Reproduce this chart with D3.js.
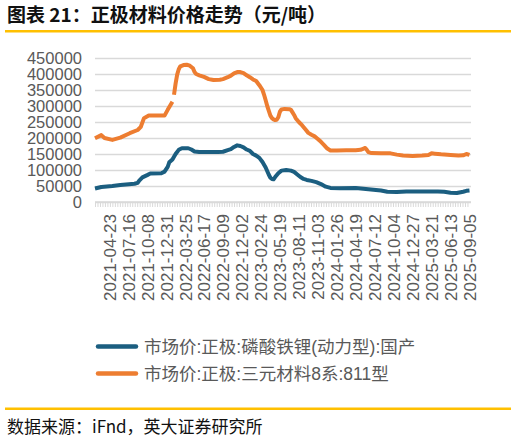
<!DOCTYPE html>
<html>
<head>
<meta charset="utf-8">
<script src="https://cdn.jsdelivr.net/npm/d3@7"></script>
<style>
  body { margin: 0; background: #fff; }
  svg { display: block; }
</style>
</head>
<body>
<svg id="chart" width="517" height="440"></svg>
<script>
// 磷酸铁锂(动力型) weekly prices, yuan/ton
const lfpDates = ['2021-02-19', '2021-03-19', '2021-05-07', '2021-06-11', '2021-08-13', '2021-08-27', '2021-09-03', '2021-09-17', '2021-10-08', '2021-10-22', '2021-12-10', '2021-12-24', '2022-01-07', '2022-01-14', '2022-01-28', '2022-02-11', '2022-02-25', '2022-03-11', '2022-04-08', '2022-04-22', '2022-05-06', '2022-05-27', '2022-08-19', '2022-09-09', '2022-09-30', '2022-10-14', '2022-10-28', '2022-11-11', '2022-11-25', '2022-12-09', '2022-12-23', '2023-01-06', '2023-01-20', '2023-02-03', '2023-02-17', '2023-03-03', '2023-03-17', '2023-03-31', '2023-04-07', '2023-04-14', '2023-04-21', '2023-04-28', '2023-05-12', '2023-05-26', '2023-06-16', '2023-07-07', '2023-07-21', '2023-08-04', '2023-08-18', '2023-09-01', '2023-09-15', '2023-10-06', '2023-10-27', '2023-11-17', '2023-12-08', '2023-12-29', '2024-02-09', '2024-04-19', '2024-06-14', '2024-08-09', '2024-09-06', '2024-10-18', '2024-11-29', '2025-02-07', '2025-04-18', '2025-05-16', '2025-06-13', '2025-07-11', '2025-08-08', '2025-08-22', '2025-09-05']
const lfpValues = [42000, 47000, 50000, 53000, 57000, 60000, 67000, 77000, 84000, 89000, 90000, 95000, 110000, 124000, 133000, 150000, 163000, 168000, 168000, 164000, 158000, 156000, 156000, 157000, 162000, 165000, 172000, 177000, 175000, 171000, 164000, 160000, 150000, 145000, 138000, 125000, 108000, 85000, 76000, 72000, 71000, 78000, 90000, 98000, 100000, 98000, 94000, 86000, 78000, 72000, 69000, 66000, 62000, 56000, 48000, 44000, 43000, 44000, 40000, 36000, 32000, 31000, 33000, 33000, 33000, 32000, 29000, 28000, 32000, 35000, 36000]

// 三元材料8系:811型 weekly prices, yuan/ton (null = missing value)
const ncmDates = ['2021-02-19', '2021-03-19', '2021-04-02', '2021-05-07', '2021-06-11', '2021-07-23', '2021-08-27', '2021-09-10', '2021-09-24', '2021-10-15', '2021-12-24', '2022-01-07', '2022-01-28', '2022-02-01', '2022-02-04', '2022-02-11', '2022-02-18', '2022-02-25', '2022-03-04', '2022-03-18', '2022-04-01', '2022-04-15', '2022-04-29', '2022-05-06', '2022-05-13', '2022-05-27', '2022-06-17', '2022-07-08', '2022-07-29', '2022-08-26', '2022-09-09', '2022-09-30', '2022-10-14', '2022-10-28', '2022-11-11', '2022-11-25', '2022-12-09', '2022-12-23', '2023-01-06', '2023-01-20', '2023-02-03', '2023-02-17', '2023-03-03', '2023-03-10', '2023-03-17', '2023-03-24', '2023-03-31', '2023-04-07', '2023-04-14', '2023-04-21', '2023-04-28', '2023-05-05', '2023-05-12', '2023-05-19', '2023-05-26', '2023-06-09', '2023-06-30', '2023-07-07', '2023-07-14', '2023-07-21', '2023-07-28', '2023-08-11', '2023-08-25', '2023-09-08', '2023-09-22', '2023-10-06', '2023-10-20', '2023-11-03', '2023-11-17', '2023-12-01', '2023-12-15', '2023-12-29', '2024-01-26', '2024-03-08', '2024-04-19', '2024-05-10', '2024-05-24', '2024-05-31', '2024-06-07', '2024-06-14', '2024-06-28', '2024-08-09', '2024-09-20', '2024-10-18', '2024-11-15', '2024-12-27', '2025-02-07', '2025-03-07', '2025-03-21', '2025-04-04', '2025-05-02', '2025-06-13', '2025-07-18', '2025-08-08', '2025-08-22', '2025-09-05']
const ncmValues = [199000, 209000, 200000, 194000, 201000, 215000, 225000, 235000, 262000, 270000, 270000, 288000, 313000, null, 335000, 370000, 398000, 415000, 424000, 428000, 429000, 426000, 418000, 406000, 400000, 396000, 391000, 384000, 381000, 382000, 384000, 390000, 395000, 402000, 406000, 406000, 403000, 396000, 390000, 383000, 378000, 365000, 350000, 335000, 318000, 300000, 285000, 270000, 262000, 258000, 256000, 257000, 265000, 282000, 289000, 291000, 290000, 288000, 280000, 272000, 262000, 250000, 240000, 228000, 216000, 210000, 205000, 197000, 188000, 178000, 167000, 161000, 161000, 162000, 162000, 163000, 167000, 169000, 163000, 156000, 153000, 152000, 152000, 148000, 145000, 144000, 145000, 147000, 152000, 151000, 149000, 147000, 145000, 146000, 150000, 147000]

const labelDates = ['2021-04-23', '2021-07-16', '2021-10-08', '2021-12-31', '2022-03-25', '2022-06-17', '2022-09-09', '2022-12-02', '2023-02-24', '2023-05-19', '2023-08-11', '2023-11-03', '2024-01-26', '2024-04-19', '2024-07-12', '2024-10-04', '2024-12-27', '2025-03-21', '2025-06-13', '2025-09-05']
const yTicks = [0, 50000, 100000, 150000, 200000, 250000, 300000, 350000, 400000, 450000]

const seriesNames = ['市场价:正极:磷酸铁锂(动力型):国产', '市场价:正极:三元材料8系:811型']
const colors = ['#1b5e80', '#ed7d31']

const textColor = '#595959'
const gridColor = '#d9d9d9'
const latin = '"Liberation Sans", Arial, "Noto Sans CJK SC", sans-serif'
const parse = d3.timeParse('%Y-%m-%d')

const svg = d3.select('#chart')
svg.append('rect').attr('width', 517).attr('height', 440).attr('fill', '#fff')

// Title and the two gold rules
svg.append('text')
  .attr('x', 7)
  .attr('y', 22)
  .attr('font-family', '"Noto Sans CJK SC", sans-serif')
  .attr('font-weight', 700)
  .attr('font-size', 19)
  .attr('fill', '#111')
  .text('图表 21：正极材料价格走势（元/吨）')

svg.append('rect').attr('x', 5).attr('y', 30).attr('width', 506).attr('height', 2.5).attr('fill', '#ffc000')
svg.append('rect').attr('x', 5).attr('y', 407.5).attr('width', 506).attr('height', 2.5).attr('fill', '#ffc000')

const x = d3.scaleTime()
  .domain([parse('2021-02-19'), parse('2025-09-05')])
  .range([95, 469.5])

const y = d3.scaleLinear()
  .domain([0, 450000])
  .range([202, 58])

// y axis with gridlines
svg.append('g')
  .attr('transform', 'translate(95, 0)')
  .call(d3.axisLeft(y).tickValues(yTicks).tickSize(-376).tickPadding(13).tickFormat(d3.format('d')))
  .call(g => g.select('.domain').remove())
  .call(g => g.selectAll('line').attr('stroke', gridColor).attr('stroke-width', 1.3))
  .call(g => g.selectAll('text')
    .attr('fill', textColor)
    .attr('font-family', latin)
    .attr('font-size', 16.5))

// x axis: small category ticks, then the rotated date labels
const xAxisG = svg.append('g').attr('transform', 'translate(0, 202)')

xAxisG.append('g')
  .call(d3.axisBottom(x)
    .tickValues(d3.timeDay.range(parse('2021-02-19'), parse('2025-09-06'), 11))
    .tickSize(5)
    .tickSizeOuter(0)
    .tickFormat(''))
  .call(g => g.select('.domain').attr('stroke', gridColor).attr('stroke-width', 1.3).attr('d', 'M95,0H471'))
  .call(g => g.selectAll('line').attr('stroke', gridColor))

xAxisG.append('g')
  .call(d3.axisBottom(x)
    .tickValues(labelDates.map(parse))
    .tickSize(0)
    .tickFormat(d3.timeFormat('%Y-%m-%d')))
  .call(g => g.select('.domain').remove())
  .call(g => g.selectAll('text')
    .attr('transform', 'rotate(-90)')
    .attr('text-anchor', 'end')
    .attr('x', -12)
    .attr('y', 0)
    .attr('dy', '0.35em')
    .attr('fill', textColor)
    .attr('font-family', latin)
    .attr('font-size', 17))

// lines
const line = d3.line()
  .defined(d => d.value !== null)
  .x(d => x(d.date))
  .y(d => y(d.value))

const series = [
  lfpDates.map((d, i) => ({ date: parse(d), value: lfpValues[i] })),
  ncmDates.map((d, i) => ({ date: parse(d), value: ncmValues[i] }))
]

svg.append('g')
  .selectAll('path')
  .data(series)
  .join('path')
  .attr('d', line)
  .attr('fill', 'none')
  .attr('stroke', (d, i) => colors[i])
  .attr('stroke-width', 4)
  .attr('stroke-linejoin', 'round')

// legend
const legend = svg.append('g')
  .selectAll('g')
  .data(seriesNames)
  .join('g')
  .attr('transform', (d, i) => `translate(0, ${346.5 + i * 27})`)

legend.append('line')
  .attr('x1', 98)
  .attr('x2', 136)
  .attr('stroke', (d, i) => colors[i])
  .attr('stroke-width', 4.5)
  .attr('stroke-linecap', 'round')

legend.append('text')
  .attr('x', 144)
  .attr('dy', '0.35em')
  .attr('fill', textColor)
  .attr('font-family', latin)
  .attr('font-size', 17.5)
  .text(d => d)

// source note
svg.append('text')
  .attr('x', 7)
  .attr('y', 433)
  .attr('font-family', '"Noto Sans CJK SC", sans-serif')
  .attr('font-size', 17)
  .attr('fill', '#111')
  .text('数据来源：iFnd，英大证券研究所')
</script>
</body>
</html>
